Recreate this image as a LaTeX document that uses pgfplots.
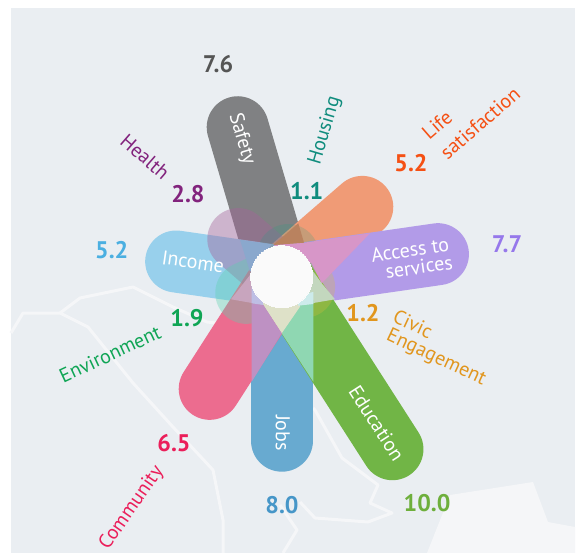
\documentclass[border=0pt]{standalone}
\usepackage{fontspec}
\setmainfont{PT Sans}
\usepackage{pgfplots}
\pgfplotsset{compat=1.18}
\definecolor{bgc}{RGB}{234,238,242}
\definecolor{road}{RGB}{245,246,248}
\definecolor{hub}{RGB}{250,250,250}
\definecolor{cSafety}{RGB}{128,129,131}
\definecolor{cJobs}{RGB}{104,170,208}
\definecolor{cEdu}{RGB}{113,181,70}
\definecolor{cComm}{RGB}{236,108,143}
\definecolor{cLife}{RGB}{240,155,118}
\definecolor{cAccess}{RGB}{178,155,232}
\definecolor{cIncome}{RGB}{152,208,236}
\definecolor{cHealth}{RGB}{165,100,154}
\definecolor{cHousing}{RGB}{30,160,130}
\definecolor{cCivic}{RGB}{220,190,60}
\definecolor{cEnv}{RGB}{90,210,175}
\definecolor{ova}{RGB}{138,168,205}
\definecolor{ovb}{RGB}{185,130,95}
\definecolor{ovc}{RGB}{215,150,200}
\definecolor{ovd}{RGB}{195,215,190}
\definecolor{ove}{RGB}{200,165,190}
\definecolor{ovf}{RGB}{143,215,178}
\definecolor{ovg}{RGB}{222,225,200}
\definecolor{ovh}{RGB}{190,145,195}
\definecolor{ovi}{RGB}{190,190,228}
\definecolor{ovj}{RGB}{205,235,235}
\definecolor{n76}{RGB}{85,85,85}
\definecolor{n11}{RGB}{15,140,125}
\definecolor{n52}{RGB}{245,80,20}
\definecolor{n77}{RGB}{150,120,235}
\definecolor{n12}{RGB}{225,150,30}
\definecolor{n10}{RGB}{110,175,60}
\definecolor{n80}{RGB}{70,150,200}
\definecolor{n65}{RGB}{235,30,90}
\definecolor{n19}{RGB}{15,165,85}
\definecolor{n5i}{RGB}{75,175,225}
\definecolor{n28}{RGB}{130,35,125}
\pgfplotsset{
  sheet/.style={scale only axis,width=580pt,height=553pt,axis lines=none,anchor=south west,at={(0,0)}},
  px/.style={sheet,xmin=0,xmax=580,ymin=0,ymax=553,y dir=reverse},
  polarsheet/.style={sheet,xmin=-13.741,xmax=14.551,ymin=-13.478,ymax=13.498},
  petal/.style={draw=#1,line width=62pt,line cap=round,mark=none,data cs=polar},
  blob/.style 2 args={draw=#1,line width=62pt,line cap=round,mark=none,data cs=polar,draw opacity=#2},
  rd/.style={draw=road,line width=3pt,line join=round,mark=none},
  ov/.style={fill=#1,draw=none,mark=none},
}
\newcommand{\num}[4]{\node[text=#1,font=\fontsize{24}{24}\selectfont\bfseries] at (axis cs:#2,#3) {#4};}
\newcommand{\lab}[5]{\node[text=#1,rotate=#4,font=\fontsize{20}{20}\selectfont] at (axis cs:#2,#3) {#5};}
\begin{document}
\begin{tikzpicture}
% map background
\begin{axis}[px,name=ax]
\addplot[fill=white,draw=none] coordinates {(0,0)(580,0)(580,553)(0,553)} -- cycle;
\addplot[fill=bgc,draw=none] coordinates {(11,8)(575,8)(575,553)(11,553)} -- cycle;
\addplot[fill=road,draw=none] coordinates {(450,495)(533,482)(548,522)(575,527)(575,553)(427,553)} -- cycle;
\addplot[rd] coordinates {(11,333)(23,313)(60,313)(88,327)(133,383)(173,427)(213,470)(223,520)(223,553)};
\addplot[rd] coordinates {(60,313)(80,298)(133,287)(173,307)(207,322)(250,327)};
\addplot[rd] coordinates {(313,408)(315,410)(342,458)(378,485)(370,503)(392,513)(368,522)(315,518)(300,502)};
\addplot[rd] coordinates {(280,505)(297,530)(283,553)};
\end{axis}
% petals: angle, value (1 unit = 20.5 px, centre at 281.7,276.7)
\begin{axis}[polarsheet]
\addplot[petal=cSafety]  coordinates {(0,0)(106.4,7.6)};
\addplot[petal=cLife]    coordinates {(0,0)(40.9,5.2)};
\addplot[petal=cAccess]  coordinates {(0,0)(8.2,7.7)};
\addplot[petal=cIncome]  coordinates {(0,0)(171.8,5.2)};
\addplot[petal=cJobs]    coordinates {(0,0)(270,8.0)};
\addplot[petal=cEdu]     coordinates {(0,0)(302.7,10.0)};
\addplot[petal=cComm]    coordinates {(0,0)(237.3,6.5)};
\addplot[blob={cHealth}{.42}]  coordinates {(0,0)(139.1,2.8)};
\addplot[blob={cHousing}{.2}]  coordinates {(0,0)(73.6,1.1)};
\addplot[blob={cCivic}{.28}]   coordinates {(0,0)(335.5,1.2)};
\addplot[blob={cEnv}{.35}]     coordinates {(0,0)(204.5,1.9)};
\end{axis}
% overlap tints
\begin{axis}[px]
\addplot[ov=ovc] coordinates {(273.3,245)(304,242.7)(370,233.3)(321.7,283.3)(311.7,263.3)} -- cycle;
\addplot[ov=ovb] coordinates {(298.3,223.3)(304,242.7)(273.3,245)} -- cycle;
\addplot[ov=ova] coordinates {(240,239.7)(271.7,244.3)(250,271.7)} -- cycle;
\addplot[ov=ovd] coordinates {(313.3,271.7)(321.7,283.3)(335,299.3)(300,305.3)} -- cycle;
\addplot[ov=ove] coordinates {(250,275)(231,299.3)(263.3,305)} -- cycle;
\addplot[ov=ovf] coordinates {(300,300)(313.3,300)(313.3,381.7)(281.7,333.3)} -- cycle;
\addplot[ov=ovg] coordinates {(258,295)(300,295)(300,306.7)(281.7,333.3)(263.3,305)} -- cycle;
\addplot[ov=ovh] coordinates {(251.7,303.3)(251.7,381.7)(281.7,333.3)(263.3,305)} -- cycle;
\addplot[ov=ovi] coordinates {(251.7,285)(251.7,303.3)(263.3,305)(262,290)} -- cycle;
\addplot[ov=ovj] coordinates {(298,305.7)(313.3,304)(313.3,292)(298,295)} -- cycle;
\end{axis}
% hub and labels
\begin{axis}[px]
\addplot[only marks,mark=*,mark size=31pt,mark options={draw=hub,fill=hub,line width=0pt}] coordinates {(281.7,276.7)};
\num{n76}{218}{64}{7.6}
\num{n11}{306.7}{190.7}{1.1}
\num{n52}{411}{162.7}{5.2}
\num{n77}{507}{244}{7.7}
\num{n12}{363}{312.7}{1.2}
\num{n10}{427}{503}{10.0}
\num{n80}{282}{505}{8.0}
\num{n65}{174}{443}{6.5}
\num{n19}{187}{318}{1.9}
\num{n5i}{111.7}{250}{5.2}
\num{n28}{188}{194}{2.8}
\lab{white}{241.7}{139}{-73.6}{Safety}
\lab{white}{410}{250}{8.2}{Access to}
\lab{white}{419}{267}{8.2}{services}
\lab{white}{193}{261.7}{-8.2}{Income}
\lab{white}{282.7}{433}{-90}{Jobs}
\lab{white}{376.7}{423}{-57.3}{Education}
\lab{n11}{325}{130.7}{73.6}{Housing}
\lab{n52}{437}{125}{41}{Life}
\lab{n52}{480}{123}{41}{satisfaction}
\lab{n28}{145}{157}{-41}{Health}
\lab{n19}{110}{354}{25}{Environment}
\lab{n65}{131.7}{508}{55}{Community}
\lab{n12}{413}{324}{-25}{Civic}
\lab{n12}{436}{358}{-25}{Engagement}
\end{axis}
\pgfresetboundingbox
\useasboundingbox (ax.south west) rectangle (ax.north east);
\end{tikzpicture}
\end{document}
